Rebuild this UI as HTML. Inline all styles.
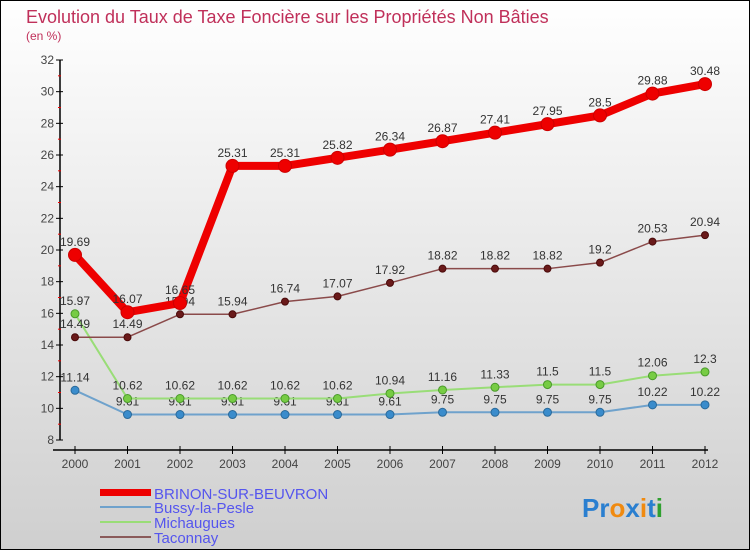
<!DOCTYPE html>
<html><head><meta charset="utf-8"><style>
body{margin:0;width:750px;height:550px;overflow:hidden}
svg{display:block}
text{font-family:"Liberation Sans",sans-serif}
</style></head><body>
<svg id="c" width="750" height="550" xmlns="http://www.w3.org/2000/svg">
<defs><linearGradient id="bg" x1="0" y1="0" x2="0" y2="1"><stop offset="0" stop-color="#ffffff"/><stop offset="1" stop-color="#cfcfcf"/></linearGradient></defs>
<rect x="0.5" y="0.5" width="749" height="549" fill="url(#bg)" stroke="#000"/>
<text x="26" y="23" font-size="18" fill="#c0305a">Evolution du Taux de Taxe Foncière sur les Propriétés Non Bâties</text>
<text x="26" y="40" font-size="12" fill="#c0305a">(en %)</text>
<g id="axes"></g><g id="series"></g>
<g>
<rect x="100" y="489" width="51" height="7" fill="#e00"/>
<text x="154" y="499" font-size="15" fill="#5555ee">BRINON-SUR-BEUVRON</text>
<rect x="100" y="506" width="51" height="2" fill="#6fa2cc"/>
<text x="154" y="513" font-size="15" fill="#5555ee">Bussy-la-Pesle</text>
<rect x="100" y="521" width="51" height="2" fill="#99dd77"/>
<text x="154" y="528" font-size="15" fill="#5555ee">Michaugues</text>
<rect x="100" y="536" width="51" height="2" fill="#8a5a5a"/>
<text x="154" y="543" font-size="15" fill="#5555ee">Taconnay</text>
</g>
<text x="582" y="517" font-size="26" font-weight="bold"><tspan fill="#2a7fd0">Pr</tspan><tspan fill="#f08a10">o</tspan><tspan fill="#2a7fd0">x</tspan><tspan fill="#f08a10">i</tspan><tspan fill="#2a7fd0">t</tspan><tspan fill="#30a030">i</tspan></text>
</svg>
<script>
const years=[2000,2001,2002,2003,2004,2005,2006,2007,2008,2009,2010,2011,2012];
const brinon=[19.69,16.07,16.65,25.31,25.31,25.82,26.34,26.87,27.41,27.95,28.5,29.88,30.48];
const bussy=[11.14,9.61,9.61,9.61,9.61,9.61,9.61,9.75,9.75,9.75,9.75,10.22,10.22];
const michaugues=[15.97,10.62,10.62,10.62,10.62,10.62,10.94,11.16,11.33,11.5,11.5,12.06,12.3];
const taconnay=[14.49,14.49,15.94,15.94,16.74,17.07,17.92,18.82,18.82,18.82,19.2,20.53,20.94];
const yTicks=[8,10,12,14,16,18,20,22,24,26,28,30,32];
const NS="http://www.w3.org/2000/svg";
const X=i=>75+i*52.5;
const Y=v=>440-(v-8)*(380/24);
function mk(t,a,p){const e=document.createElementNS(NS,t);for(const k in a)e.setAttribute(k,a[k]);p.appendChild(e);return e;}
const ax=document.getElementById('axes');
let l=mk('line',{x1:60,y1:Y(32),x2:60,y2:Y(8),stroke:'#000','stroke-width':1.5},ax);


yTicks.forEach(v=>{
 let tk=mk('line',{x1:56,y1:Y(v),x2:63,y2:Y(v),stroke:'#000'},ax);
 
 
 let m=mk('line',{x1:58,y1:Y(v+1),x2:61,y2:Y(v+1),stroke:'#e00'},ax);
 if(v==32)m.remove();
 let t=mk('text',{x:54,y:Y(v)+4,'font-size':12,fill:'#444','text-anchor':'end'},ax);
 t.textContent=v;
 
 
});
l=mk('line',{x1:53,y1:450,x2:708,y2:450,stroke:'#000','stroke-width':1.5},ax);


years.forEach((yr,i)=>{
 let tk=mk('line',{x1:X(i),y1:446,x2:X(i),y2:454,stroke:'#000'},ax);
 
 
 let t=mk('text',{x:X(i),y:468,'font-size':12,fill:'#444','text-anchor':'middle'},ax);
 t.textContent=yr;
 
 
});
const sg=document.getElementById('series');
function draw(vals,name,color,w,r,fill,stroke){
 const g=mk('g',{},sg);
 
 
 const p=mk('polyline',{points:vals.map((v,i)=>X(i)+','+Y(v)).join(' '),fill:'none',stroke:color,'stroke-width':w,'stroke-linejoin':'round'},g);
 
 
 vals.forEach((v,i)=>{
  const c=mk('circle',{cx:X(i),cy:Y(v),r:r,fill:fill,stroke:stroke,'stroke-width':1},g);
  
  
  const t=mk('text',{x:X(i),y:Y(v)-9,'font-size':12,fill:'#333','text-anchor':'middle'},g);
  t.textContent=v;
  
  
 });
}
draw(bussy,'bussy','#6fa2cc',2,4,'#3a8ccc','#2a6a9a');
draw(michaugues,'michaugues','#99dd77',2,4,'#77cc44','#4a9a2a');
draw(taconnay,'taconnay','#8a4a4a',1.5,3.5,'#6a1a1a','#4a0a0a');
draw(brinon,'brinon','#ee0000',8,6.5,'#ee0000','#cc0000');
</script>
</body></html>
